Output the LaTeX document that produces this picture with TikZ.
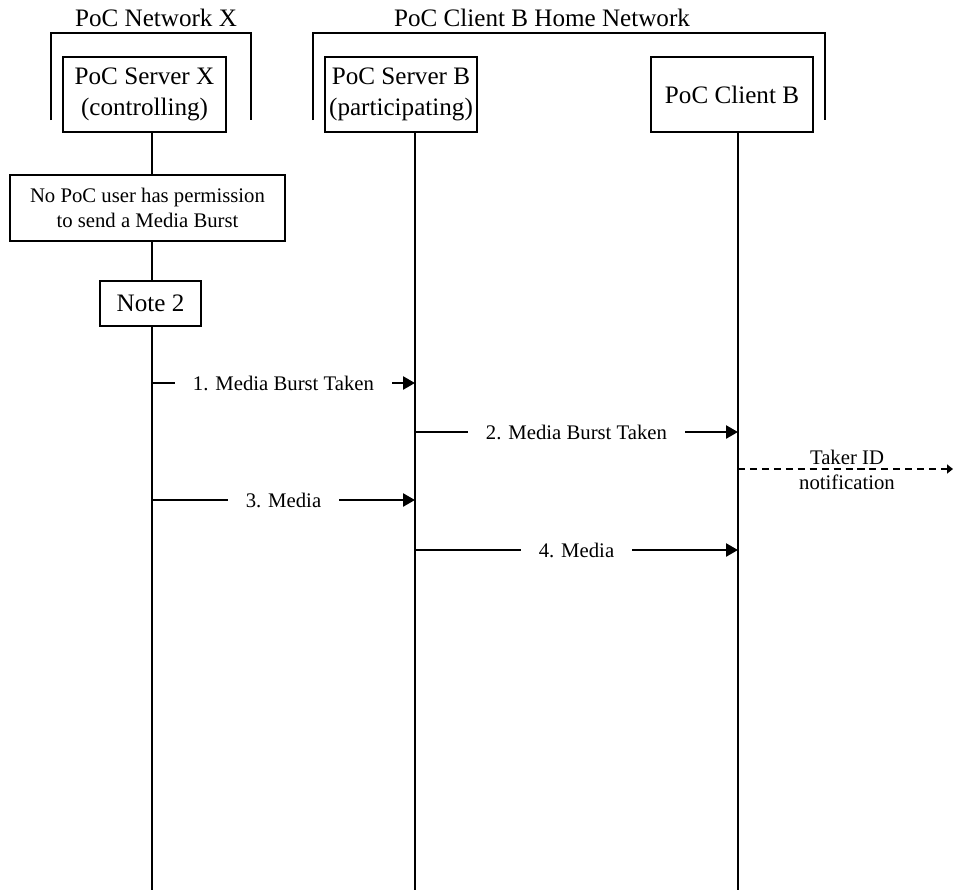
\documentclass[tikz,border=0pt]{standalone}
\usepackage{fontspec}
\setmainfont{Liberation Serif}
\usetikzlibrary{arrows.meta, positioning}

\begin{document}
\begin{tikzpicture}[x=0.02cm, y=-0.02cm,
	entity/.style={draw, line width=0.8pt, minimum height=1.5cm, inner sep=1pt, align=center, font=\fontsize{14.3}{17.5}\selectfont},
	note/.style={draw, fill=white, line width=0.8pt, align=center, font=\fontsize{11.8}{14.2}\selectfont},
	life/.style={line width=0.85pt},
	msg/.style={line width=1.4pt, -{Triangle[length=0.24cm, width=0.26cm]}},
	lbl/.style={fill=white, inner xsep=0.35cm, inner ysep=1pt, font=\fontsize{11.8}{14}\selectfont},
	title/.style={font=\fontsize{14.3}{17}\selectfont}]
	\useasboundingbox (0,0) rectangle (953,890);

	\node[title] (netx) at (156,18) {PoC Network X};
	\node[title] (netb) at (542,18) {PoC Client B Home Network};
	\draw[life] (51,120) |- (251,33) -- (251,120);
	\draw[life] (313,120) |- (825,33) -- (825,120);

	\node[entity, minimum width=3.26cm] (srvx) at (144.5,94.5) {PoC Server X\\(controlling)};
	\node[entity, minimum width=3.04cm] (srvb) at (401,94.5) {PoC Server B\\(participating)};
	\node[entity, minimum width=3.24cm] (clb) at (732,94.5) {PoC Client B};

	\coordinate (xtop) at (152,132);
	\coordinate (xend) at (152,890);
	\coordinate (btop) at (415,132);
	\coordinate (bend) at (415,890);
	\coordinate (ctop) at (738,132);
	\coordinate (cend) at (738,890);
	\draw[life] (xtop) -- (xend);
	\draw[life] (btop) -- (bend);
	\draw[life] (ctop) -- (cend);

	\node[note, minimum width=5.5cm, minimum height=1.32cm] (noperm) at (147.5,208) {No PoC user has permission\\to send a Media Burst};
	\node[note, minimum width=2.02cm, minimum height=0.9cm, font=\fontsize{14.3}{17}\selectfont] (note2) at (150.5,303.5) {Note 2};

	\coordinate (x1) at (152,383);
	\coordinate (b1) at (415,383);
	\coordinate (b2) at (415,432);
	\coordinate (c2) at (738,432);
	\coordinate (c3) at (738,469);
	\coordinate (out) at (953,469);
	\coordinate (x4) at (152,500);
	\coordinate (b4) at (415,500);
	\coordinate (b5) at (415,550);
	\coordinate (c5) at (738,550);

	\path[msg] (x1) edge node[lbl] {1. Media Burst Taken} (b1);
	\path[msg] (b2) edge node[lbl] {2. Media Burst Taken} (c2);
	\path[msg] (x4) edge node[lbl] {3. Media} (b4);
	\path[msg] (b5) edge node[lbl] {4. Media} (c5);
	\path[line width=1.4pt, dash pattern=on 4pt off 2.8pt, -{Triangle[length=0.12cm, width=0.18cm]}] (c3) edge (out);
	\node[align=center, font=\fontsize{11.8}{14.2}\selectfont] (taker) at (847,470) {Taker ID\\notification};
\end{tikzpicture}
\end{document}
